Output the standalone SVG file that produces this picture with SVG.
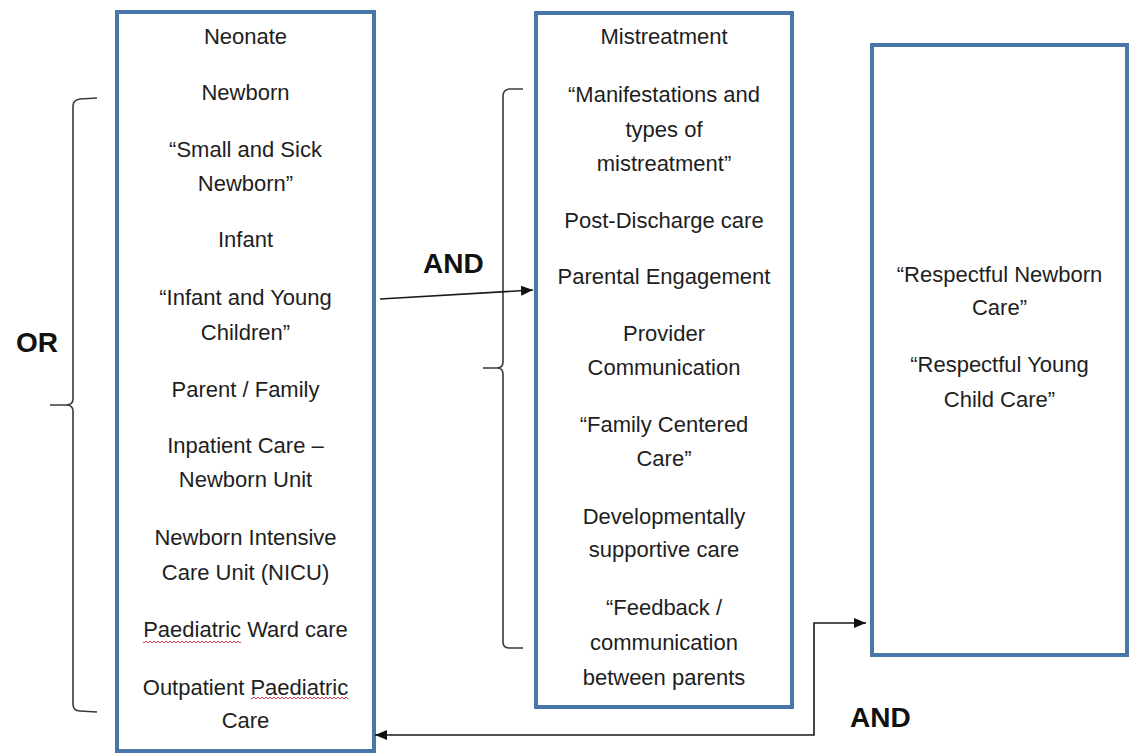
<svg xmlns="http://www.w3.org/2000/svg" width="1136" height="754" viewBox="0 0 1136 754">
  <style>
    .box { fill: #ffffff; stroke: #4a77a9; stroke-width: 4; }
    .t { font-family: "Liberation Sans", Arial, sans-serif; font-size: 22px; fill: #1e1e1e; text-anchor: middle; }
    .op { font-family: "Liberation Sans", Arial, sans-serif; font-size: 28px; font-weight: bold; fill: #111111; }
    .brace { fill: none; stroke: #3a3a3a; stroke-width: 1.6; }
    .conn { fill: none; stroke: #1a1a1a; stroke-width: 1.6; }
  </style>
  <defs>
    <marker id="arrow" viewBox="0 0 12 10" refX="12" refY="5" markerWidth="12" markerHeight="10" markerUnits="userSpaceOnUse" orient="auto-start-reverse">
      <path d="M0,0 L12,5 L0,10 z" fill="#111111"/>
    </marker>
    <pattern id="squig" x="0" y="0" width="4" height="4" patternUnits="userSpaceOnUse">
      <path d="M0,3 L2,1 L4,3" fill="none" stroke="#d9262b" stroke-width="0.9"/>
    </pattern>
  </defs>
  <rect x="0" y="0" width="1136" height="754" fill="#ffffff"/>

  <g id="node-population">
    <rect class="box" x="117" y="12" width="257" height="739"/>
    <text class="t" x="245.5" y="44">Neonate</text>
    <text class="t" x="245.5" y="100">Newborn</text>
    <text class="t" x="245.5" y="157">“Small and Sick</text>
    <text class="t" x="245.5" y="191">Newborn”</text>
    <text class="t" x="245.5" y="247">Infant</text>
    <text class="t" x="245.5" y="305">“Infant and Young</text>
    <text class="t" x="245.5" y="340">Children”</text>
    <text class="t" x="245.5" y="397">Parent / Family</text>
    <text class="t" x="245.5" y="453">Inpatient Care –</text>
    <text class="t" x="245.5" y="487">Newborn Unit</text>
    <text class="t" x="245.5" y="545">Newborn Intensive</text>
    <text class="t" x="245.5" y="580">Care Unit (NICU)</text>
    <text class="t" x="245.5" y="637">Paediatric Ward care</text>
    <rect x="143" y="640" width="98" height="4" fill="url(#squig)"/>
    <text class="t" x="245.5" y="695">Outpatient Paediatric</text>
    <rect x="251" y="696" width="97" height="4" fill="url(#squig)"/>
    <text class="t" x="245.5" y="728">Care</text>
  </g>

  <g id="node-concepts">
    <rect class="box" x="536" y="13" width="256" height="694"/>
    <text class="t" x="664" y="44">Mistreatment</text>
    <text class="t" x="664" y="102">“Manifestations and</text>
    <text class="t" x="664" y="137">types of</text>
    <text class="t" x="664" y="171">mistreatment”</text>
    <text class="t" x="664" y="228">Post-Discharge care</text>
    <text class="t" x="664" y="284">Parental Engagement</text>
    <text class="t" x="664" y="341">Provider</text>
    <text class="t" x="664" y="375">Communication</text>
    <text class="t" x="664" y="432">“Family Centered</text>
    <text class="t" x="664" y="466">Care”</text>
    <text class="t" x="664" y="524">Developmentally</text>
    <text class="t" x="664" y="557">supportive care</text>
    <text class="t" x="664" y="615">“Feedback /</text>
    <text class="t" x="664" y="650">communication</text>
    <text class="t" x="664" y="685">between parents</text>
  </g>

  <g id="node-respectful">
    <rect class="box" x="872" y="45" width="255" height="610"/>
    <text class="t" x="999.5" y="282">“Respectful Newborn</text>
    <text class="t" x="999.5" y="315">Care”</text>
    <text class="t" x="999.5" y="372">“Respectful Young</text>
    <text class="t" x="999.5" y="407">Child Care”</text>
  </g>

  <g id="connectors">
    <path class="brace" d="M97,98 L80,99 Q73,100 73,106 L73,399 Q73,405 66,405 L50,405 M66,405 Q73,405 73,411 L73,704 Q73,711 80,711 L97,712"/>
    <path class="brace" d="M523,89 L509,89 Q503,90 503,96 L503,362 Q503,368 497,368 L483,368 M497,368 Q503,368 503,374 L503,642 Q503,648 509,648 L523,648"/>
    <path class="conn" d="M380,299 L533,290" marker-end="url(#arrow)"/>
    <path class="conn" d="M866,623 L814,623 L814,735 L375,735" marker-start="url(#arrow)" marker-end="url(#arrow)"/>
  </g>

  <g id="labels">
    <text class="op" x="16" y="352">OR</text>
    <text class="op" x="423" y="273">AND</text>
    <text class="op" x="850" y="727">AND</text>
  </g>
</svg>
